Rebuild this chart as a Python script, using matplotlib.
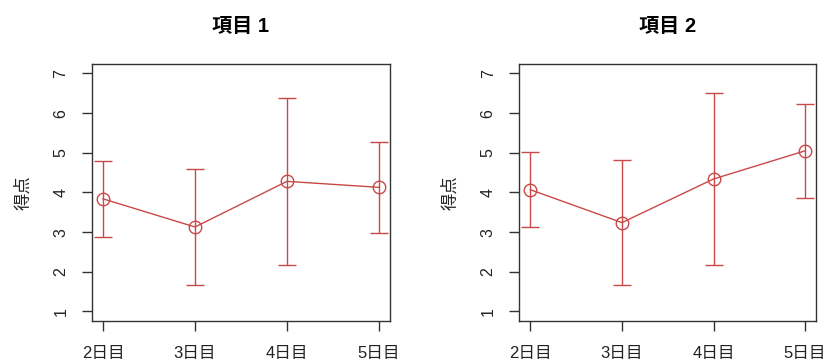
import matplotlib
matplotlib.use("Agg")
import matplotlib.pyplot as plt

plt.rcParams['font.family'] = ['Liberation Sans', 'Noto Sans CJK JP']

# 測定日と各項目の平均得点・誤差幅
days = ['2日目', '3日目', '4日目', '5日目']
item1_mean = [3.84, 3.13, 4.28, 4.13]
item1_err = [0.96, 1.46, 2.11, 1.14]
item2_mean = [4.07, 3.24, 4.34, 5.05]
item2_err = [0.95, 1.57, 2.18, 1.18]
titles = ['項目 1', '項目 2']

RED = '#C94848'
AXC = '#333333'

fig = plt.figure(figsize=(8.27, 3.62), dpi=100)
axes = [fig.add_axes([0.1112, 0.1133, 0.3603, 0.71]),
        fig.add_axes([0.628, 0.1133, 0.3588, 0.71])]

for ax, title, mean, err in zip(axes, titles, [item1_mean, item2_mean], [item1_err, item2_err]):
    x = range(1, len(days) + 1)
    ax.errorbar(x, mean, yerr=err, fmt='o-', color=RED, mfc='none', mec=RED,
                ms=9, mew=1.0, lw=1.0, elinewidth=1.0, capsize=6.3, capthick=1.0)
    ax.set_xlim(0.88, 4.12)
    ax.set_ylim(0.76, 7.24)
    ax.set_xticks(list(x))
    ax.set_xticklabels(days, fontsize=12)
    ax.set_yticks(range(1, 8))
    ax.set_yticklabels([str(v) for v in range(1, 8)], fontsize=11.5,
                       rotation=90, va='center')
    ax.tick_params(axis='both', length=7, width=1.0, color=AXC, labelcolor='#222222')
    ax.tick_params(axis='y', pad=10)
    ax.tick_params(axis='x', pad=11)
    for s in ax.spines.values():
        s.set_color(AXC)
        s.set_linewidth(1.0)
    ax.set_ylabel('得点', fontsize=12.5, color='#222222', labelpad=16)
    ax.set_title(title, fontsize=14.5, fontweight='bold', pad=23)

fig.savefig('out.png', dpi=100)
